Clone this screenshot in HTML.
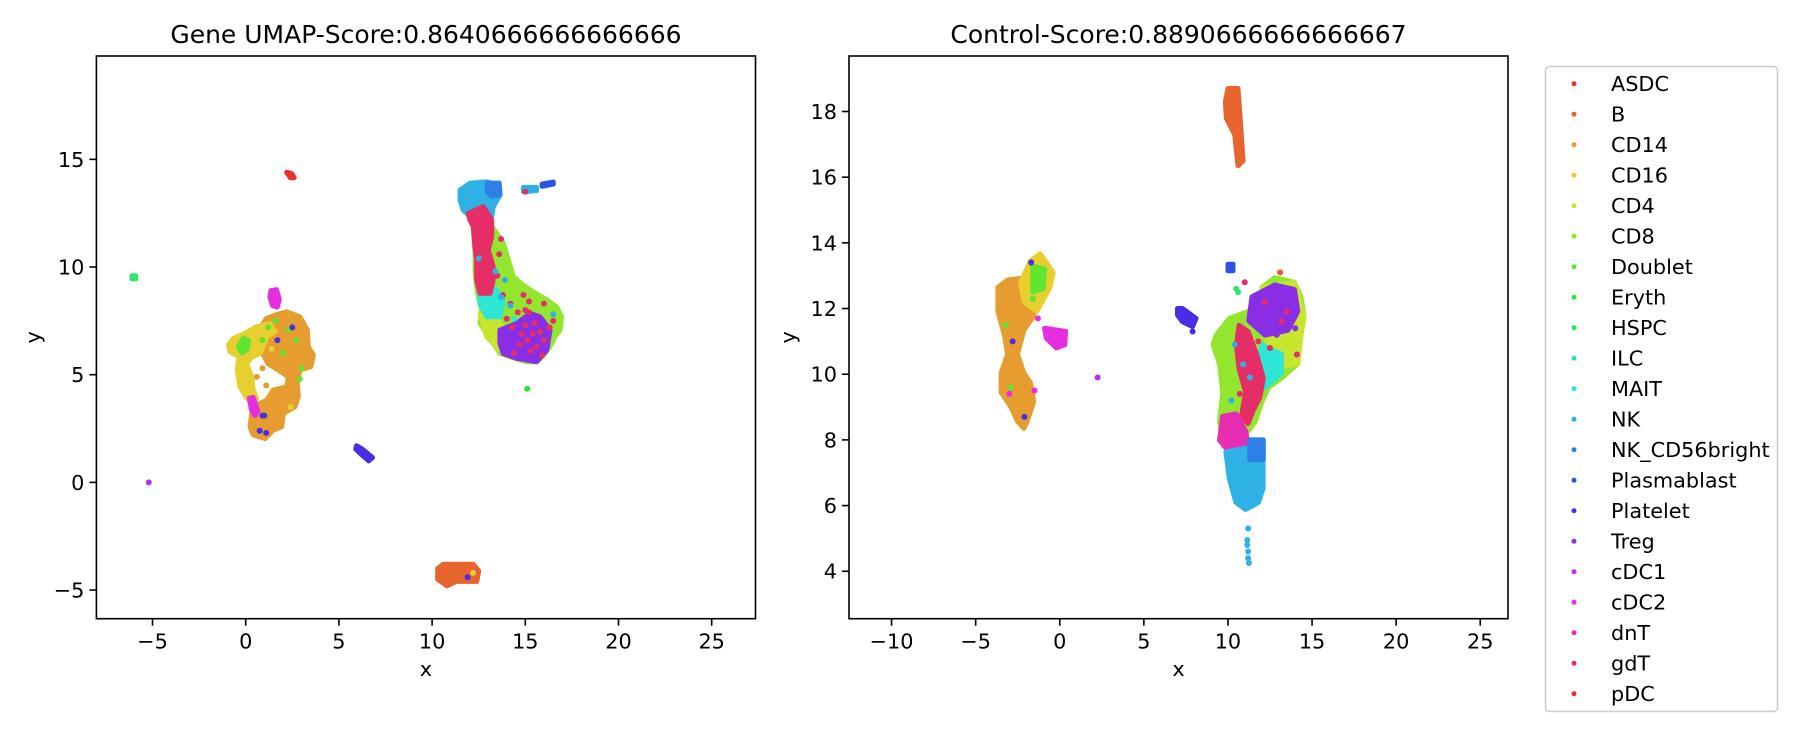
<!DOCTYPE html>
<html><head><meta charset="utf-8"><style>
html,body{margin:0;padding:0;background:#fff;}
svg{display:block;font-family:"DejaVu Sans","Liberation Sans",sans-serif;}
</style></head><body>
<svg id="fig" width="1800" height="750" viewBox="0 0 1800 750" xmlns="http://www.w3.org/2000/svg"></svg>
<script>
const labels = ["ASDC","B","CD14","CD16","CD4","CD8","Doublet","Eryth","HSPC","ILC","MAIT","NK","NK_CD56bright","Plasmablast","Platelet","Treg","cDC1","cDC2","dnT","gdT","pDC"];
const colors = ["#e8312f","#e8642f","#e69c2e","#e6cf2e","#c7e62e","#93e62e","#60e62e","#2ee63a","#2ee66e","#2ee6a1","#2ee6d4","#2eb2e6","#2e7fe6","#2e51e6","#4a2ee6","#8a2ee6","#c12ee6","#e42ee0","#e62eb2","#e62e66","#e6332e"];

const leftTicksX = [-5,0,5,10,15,20,25];
const leftTicksY = [-5,0,5,10,15];
const rightTicksX = [-10,-5,0,5,10,15,20,25];
const rightTicksY = [4,6,8,10,12,14,16,18];

const leftBlobLabels = ["CD14","CD16","cDC2","cDC2","Doublet","ASDC","HSPC","Platelet","B","CD8","NK","NK_CD56bright","CD4","MAIT","gdT","Treg","NK","Plasmablast"];
const leftBlobXs = [
 [1.57,2.20,2.91,3.31,3.36,3.63,3.49,2.91,2.77,2.82,2.64,2.02,1.93,1.48,1.04,0.41,0.23,0.32,0.59,1.13,1.48,2.20,2.29,1.75,1.2,0.9,0.7,0.8,1.1],
 [-0.93,-0.66,-0.04,0.59,1.30,1.57,1.13,0.77,0.3,0.05,0.32,0.40,0.59,0.14,-0.31,-0.45,-0.35,-0.84],
 [1.35,1.65,1.8,1.7,1.45,1.3],
 [0.2,0.4,0.65,0.5,0.3],
 [-0.4,-0.1,0.15,0.1,-0.2],
 [2.2,2.45,2.6,2.4],
 [-6.1,-5.9,-5.9,-6.1],
 [5.95,6.25,6.8,6.6,6.2,5.9],
 [10.3,10.6,12.2,12.5,12.4,11.3,10.8,10.3],
 [12.93,13.47,13.82,14.09,14.36,14.89,15.43,16.15,16.68,16.95,16.86,16.59,16.33,15.97,15.61,15.08,14.18,13.64,13.28,12.93,12.57,12.66,12.48,12.39,12.30,12.30,12.21,12.39],
 [11.50,12.03,12.93,13.55,13.64,13.28,13.20,12.57,12.03,11.67,11.50],
 [12.95,13.6,13.65,13.2,12.95],
 [12.57,13.47,13.82,13.64,12.93],
 [12.48,13.47,13.82,13.64,12.93,12.57],
 [11.94,12.75,13.20,13.20,13.01,13.28,13.28,13.11,12.57,12.39,12.39,12.30,12.21,12.03],
 [13.64,14.54,15.25,15.79,16.33,16.15,15.61,14.54,13.82,13.64],
 [14.9,15.6,15.6,14.9],
 [15.9,16.5,16.5,15.9]
];
const leftBlobYs = [
 [7.77,7.92,7.69,7.07,6.30,5.91,5.37,5.22,4.60,3.98,3.51,3.20,2.58,2.43,2.04,2.20,2.58,3.20,3.59,3.82,4.29,4.44,4.91,5.22,5.5,6.0,6.6,7.2,7.6],
 [6.38,6.69,6.92,7.23,7.38,7.0,6.76,5.99,5.8,5.5,4.91,4.29,3.90,3.82,4.44,5.22,5.83,6.07],
 [8.9,8.95,8.5,8.15,8.2,8.6],
 [3.9,3.95,3.3,3.1,3.4],
 [6.3,6.7,6.6,6.2,6.0],
 [14.4,14.35,14.15,14.15],
 [9.6,9.6,9.45,9.45],
 [1.7,1.55,1.15,1.0,1.3,1.55],
 [-4.0,-3.8,-3.8,-4.1,-4.6,-4.6,-4.8,-4.5],
 [12.18,11.57,11.10,10.33,9.55,9.16,8.85,8.47,8.16,7.69,7.07,6.76,6.30,5.91,5.60,5.60,5.83,5.99,6.46,6.92,7.38,8.00,8.62,9.08,9.86,10.64,11.87,12.34],
 [13.58,13.89,13.96,13.81,13.34,12.80,12.34,12.18,12.34,12.65,13.11],
 [13.9,13.9,13.35,13.3,13.5],
 [7.85,7.69,7.07,6.14,6.76],
 [9.24,8.93,8.47,7.69,7.69,8.31],
 [12.49,12.80,12.18,11.41,10.79,10.01,9.40,8.78,8.78,9.40,10.33,10.94,11.87,12.18],
 [7.07,7.38,7.85,7.69,7.07,6.14,5.60,5.76,5.99,6.46],
 [13.5,13.55,13.7,13.7],
 [13.75,13.85,13.95,13.85]
];
const leftDotLabels = ["Doublet","Doublet","Doublet","Doublet","Doublet","Doublet","Doublet","Doublet","Platelet","Platelet","Platelet","Platelet","Platelet","Platelet","CD16","CD16","cDC1","Eryth","Platelet","CD16",
 "gdT","gdT","gdT","gdT","gdT","gdT","gdT","gdT","gdT","gdT","gdT","gdT","gdT","gdT","gdT","gdT","gdT","gdT","gdT","gdT","gdT","gdT","gdT","gdT","gdT","gdT","gdT",
 "NK","NK","NK","NK","NK","NK","MAIT","MAIT","gdT","CD14","CD14","CD14"];
const leftDotX = [1.6,2.3,2.7,1.2,0.9,2.0,3.0,2.9,2.5,1.7,0.9,0.75,1.1,1.0,1.4,2.4,-5.2,15.1,11.9,12.2,
 14.9,15.2,15.0,14.6,14.0,14.3,15.5,15.8,15.4,15.1,14.7,15.6,16.0,16.3,15.2,14.2,13.8,13.5,13.6,13.7,16.0,16.5,14.8,15.3,14.4,15.9,15.0,
 13.4,13.7,14.2,12.5,16.5,13.9,13.3,14.4,15.0,0.6,1.1,0.9];
const leftDotY = [7.5,7.1,6.6,7.2,6.6,6.0,5.3,4.8,7.2,6.6,3.1,2.4,2.3,3.1,6.2,3.5,0.0,4.35,-4.4,-4.2,
 8.7,8.4,8.0,7.9,7.6,7.2,7.4,7.0,6.9,6.6,6.4,6.3,6.6,7.2,7.9,8.3,8.7,9.6,10.6,11.3,8.3,7.5,6.9,6.1,6.0,5.9,7.3,
 9.8,8.6,8.2,10.4,7.8,9.4,8.0,7.6,13.5,4.9,4.5,5.3];

const rightBlobLabels = ["B","CD14","CD16","Doublet","cDC2","Platelet","Plasmablast","CD8","CD4","MAIT","Treg","gdT","dnT","NK","NK_CD56bright"];
const rightBlobXs = [
 [10.0,10.6,10.75,10.9,10.6,10.4,9.9,9.85],
 [-3.68,-3.10,-1.94,-1.36,-1.55,-2.13,-2.52,-2.13,-1.74,-1.55,-1.94,-2.13,-2.52,-2.91,-3.49,-3.49,-3.10,-3.29,-3.68],
 [-2.33,-1.74,-1.16,-0.39,-0.58,-1.36,-2.13],
 [-1.6,-0.9,-1.0,-1.6],
 [-0.9,0.35,0.3,-0.2,-0.8],
 [7.0,7.3,8.1,7.9,7.3,7.0],
 [10.0,10.3,10.3,10.0],
 [9.30,10.08,11.24,12.02,12.02,12.79,13.95,14.34,14.53,14.34,14.15,13.18,12.40,12.02,11.63,11.24,10.47,9.69,9.50,9.69,9.50,9.11],
 [12.02,13.95,14.53,14.34,14.15,12.79,12.40,12.02],
 [12.02,13.18,13.18,12.21,11.63],
 [11.43,12.79,13.95,14.15,13.57,12.21,11.24],
 [10.66,11.2,11.7,12.1,11.9,11.5,11.2,10.8,11.05,10.66,10.5],
 [9.69,10.47,11.05,11.24,10.08,9.50],
 [9.88,11.24,12.09,12.09,11.82,11.05,10.47,10.08],
 [11.3,12.1,12.1,11.3]
];
const rightBlobYs = [
 [18.7,18.7,17.6,16.5,16.35,17.3,17.8,18.3],
 [12.65,12.87,12.94,12.36,11.78,11.34,10.61,10.03,9.74,9.16,8.57,8.35,8.57,9.01,9.45,10.03,10.61,11.19,11.92],
 [12.80,13.45,13.67,13.09,12.65,11.92,12.21],
 [13.3,13.2,12.6,12.5],
 [11.4,11.3,10.9,10.8,11.1],
 [12.0,12.0,11.7,11.45,11.6,11.8],
 [13.35,13.35,13.15,13.15],
 [11.19,11.70,11.92,12.07,12.65,12.94,12.80,12.36,11.78,11.19,10.32,9.88,9.59,9.16,8.57,8.28,7.99,7.99,8.57,9.45,10.32,10.90],
 [12.65,12.80,11.78,11.19,10.32,10.17,10.90,11.48],
 [10.90,10.61,10.03,9.59,9.88],
 [12.36,12.72,12.58,11.92,11.34,11.19,11.63],
 [11.49,11.3,10.61,9.88,9.30,8.9,8.5,8.72,9.45,10.17,10.90],
 [8.72,8.79,8.28,7.77,7.63,7.99],
 [7.63,7.77,7.63,6.53,6.10,5.88,6.10,6.82],
 [8.0,8.0,7.4,7.4]
];
const rightDotLabels = ["cDC1","Platelet","HSPC","HSPC","NK","NK","NK","NK","NK","NK",
 "gdT","gdT","gdT","gdT","gdT","gdT","gdT","gdT","gdT","Treg","Treg","Treg","Treg","NK","NK","NK","NK",
 "Doublet","Doublet","Doublet","Platelet","Platelet","Platelet","cDC2","cDC2","cDC2","B"];
const rightDotX = [2.25,7.9,10.5,10.6,11.2,11.15,11.15,11.2,11.2,11.25,
 11.0,13.1,13.5,12.2,11.8,13.2,14.1,10.7,12.5,12.3,13.7,12.9,14.0,10.4,10.9,11.3,10.2,
 -3.2,-2.9,-1.6,-2.1,-1.7,-2.8,-1.3,-1.5,-3.0,13.1];
const rightDotY = [9.9,11.3,12.6,12.5,5.3,4.95,4.8,4.6,4.4,4.25,
 12.8,13.1,11.9,12.2,11.0,11.6,10.6,9.4,10.8,11.9,12.6,11.2,11.4,10.9,10.3,9.9,9.2,
 11.5,9.6,12.3,8.7,13.4,11.0,11.7,9.5,9.4,13.1];

const NS = "http://www.w3.org/2000/svg";
const svg = document.getElementById("fig");
function mk(tag, attrs, parent) {
  const e = document.createElementNS(NS, tag);
  for (const k in attrs) e.setAttribute(k, attrs[k]);
  (parent || svg).appendChild(e);
  return e;
}
function colorOf(l) { return colors[labels.indexOf(l)]; }

function drawPanel(p) {
  const sx = v => p.left + (v - p.xmin) / (p.xmax - p.xmin) * (p.right - p.left);
  const sy = v => p.bottom - (v - p.ymin) / (p.ymax - p.ymin) * (p.bottom - p.top);
  const g = mk("g", {});
  
  
  const clipId = p.name + "-clip";
  const defs = mk("defs", {}, g);
  const cp = mk("clipPath", {id: clipId}, defs);
  mk("rect", {x: p.left, y: p.top, width: p.right - p.left, height: p.bottom - p.top}, cp);
  const marks = mk("g", {"clip-path": "url(#" + clipId + ")"}, g);
  
  
  p.blobLabels.forEach((lab, i) => {
    const pts = p.blobXs[i].map((x, j) => sx(x).toFixed(1) + "," + sy(p.blobYs[i][j]).toFixed(1)).join(" ");
    const c = colorOf(lab);
    const poly = mk("polygon", {points: pts, fill: c, stroke: c, "stroke-width": 5, "stroke-linejoin": "round"}, marks);
    
    
  });
  p.dotLabels.forEach((lab, i) => {
    const d = mk("circle", {cx: sx(p.dotX[i]), cy: sy(p.dotY[i]), r: 3, fill: colorOf(lab)}, marks);
    
    
  });
  const frame = mk("rect", {x: p.left, y: p.top, width: p.right - p.left, height: p.bottom - p.top, fill: "none", stroke: "#000", "stroke-width": 1.6}, g);
  
  
  p.ticksX.forEach(t => {
    const x = sx(t);
    mk("line", {x1: x, x2: x, y1: p.bottom, y2: p.bottom + 7, stroke: "#000", "stroke-width": 1.6}, g);
    const tx = mk("text", {x: x, y: p.bottom + 30, "font-size": 20.8, "text-anchor": "middle", fill: "#000"}, g);
    tx.textContent = (t < 0 ? "\u2212" + (-t) : String(t));
    
    
  });
  p.ticksY.forEach(t => {
    const y = sy(t);
    mk("line", {x1: p.left - 7, x2: p.left, y1: y, y2: y, stroke: "#000", "stroke-width": 1.6}, g);
    const ty = mk("text", {x: p.left - 12, y: y + 7.5, "font-size": 20.8, "text-anchor": "end", fill: "#000"}, g);
    ty.textContent = (t < 0 ? "\u2212" + (-t) : String(t));
    
    
  });
  const xl = mk("text", {x: (p.left + p.right) / 2, y: 676, "font-size": 20.8, "text-anchor": "middle"}, g);
  xl.textContent = "x";
  
  
  const yl = mk("text", {x: p.ylabelX, y: (p.top + p.bottom) / 2, "font-size": 20.8, "text-anchor": "middle", transform: "rotate(-90 " + p.ylabelX + " " + ((p.top + p.bottom) / 2) + ")"}, g);
  yl.textContent = "y";
  
  
  const ti = mk("text", {x: (p.left + p.right) / 2, y: 43, "font-size": 25, "text-anchor": "middle"}, g);
  ti.textContent = p.title;
  
  
}

drawPanel({name: "gene-umap-panel", title: "Gene UMAP-Score:0.8640666666666666",
  left: 96.4, right: 755.5, top: 56, bottom: 618.7, xmin: -8.01, xmax: 27.35, ymin: -6.33, ymax: 19.8,
  ticksX: leftTicksX, ticksY: leftTicksY, ylabelX: 40,
  blobLabels: leftBlobLabels, blobXs: leftBlobXs, blobYs: leftBlobYs,
  dotLabels: leftDotLabels, dotX: leftDotX, dotY: leftDotY});
drawPanel({name: "control-panel", title: "Control-Score:0.8890666666666667",
  left: 849, right: 1508, top: 56, bottom: 618.7, xmin: -12.53, xmax: 26.65, ymin: 2.555, ymax: 19.69,
  ticksX: rightTicksX, ticksY: rightTicksY, ylabelX: 795,
  blobLabels: rightBlobLabels, blobXs: rightBlobXs, blobYs: rightBlobYs,
  dotLabels: rightDotLabels, dotX: rightDotX, dotY: rightDotY});

const lg = mk("g", {});


mk("rect", {x: 1545.5, y: 66.5, width: 232, height: 645, rx: 4, fill: "#fff", stroke: "#cccccc", "stroke-width": 1.5}, lg);
labels.forEach((lab, i) => {
  const y = 83.7 + i * 30.5;
  const e = mk("g", {}, lg);
  
  
  mk("circle", {cx: 1574, cy: y, r: 2.5, fill: colors[i]}, e);
  const t = mk("text", {x: 1611, y: y + 7.5, "font-size": 20.8}, e);
  t.textContent = lab;
});
</script>
</body></html>
